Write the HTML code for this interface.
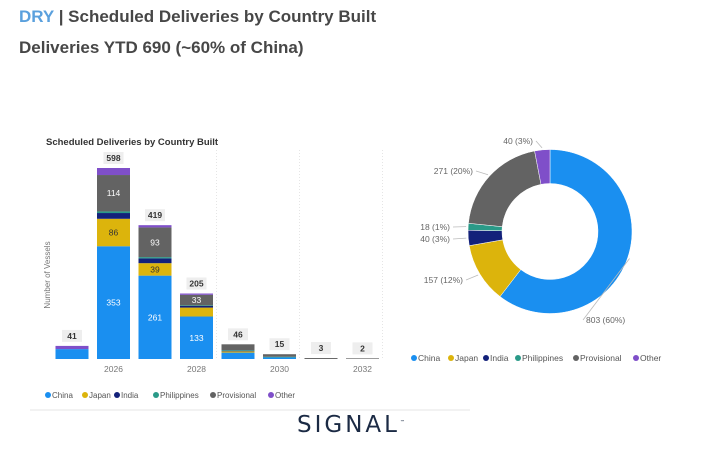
<!DOCTYPE html>
<html><head><meta charset="utf-8"><style>
body{margin:0;width:715px;height:469px;background:#fff;font-family:"Liberation Sans",sans-serif;overflow:hidden;position:relative}
.t{position:absolute;left:19px;font-weight:bold;font-size:17px;color:#474747}
</style></head><body>
<div class="t" style="top:7px"><span style="color:#5aa0dd">DRY</span> | Scheduled Deliveries by Country Built</div>
<div class="t" style="top:38px">Deliveries YTD 690 (~60% of China)</div>
<svg id="c" width="715" height="469" style="position:absolute;left:0;top:0"></svg>
<div style="position:absolute;left:297px;top:412px;font-size:23px;letter-spacing:3px;color:#1b2a44;font-family:'DejaVu Sans',sans-serif">SIGNAL<sup style="font-size:5px">™</sup></div>
<script>
const years=["2025","2026","2027","2028","2029","2030","2031","2032"];
const tickLabels=["","2026","","2028","","2030","","2032"];
const china=[31,353,261,133,20,5,0,0];
const japan=[0,86,39,28,4,0,0,0];
const india=[0,18,15,5,2,0,0,0];
const philippines=[0,5,4,2,2,2,0,0];
const provisional=[0,114,93,33,18,8,3,2];
const other=[10,22,7,4,0,0,0,0];
const totals=[41,598,419,205,46,15,3,2];
const seriesNames=["China","Japan","India","Philippines","Provisional","Other"];
const donutValues=[803,157,40,18,271,40];
const donutLabels=["803 (60%)","157 (12%)","40 (3%)","18 (1%)","271 (20%)","40 (3%)"];
const colors=["#1a8ff0","#dcb40c","#13217a","#2a9a88","#636363","#7f4fc9"];
const NS="http://www.w3.org/2000/svg",svg=document.getElementById('c');
function mk(t,a,txt){const e=document.createElementNS(NS,t);for(const k in a)e.setAttribute(k,a[k]);if(txt!==undefined)e.textContent=txt;svg.appendChild(e);return e;}
let ln=mk('line',{x1:30,y1:410,x2:470,y2:410,stroke:'#e6e6e6'});

let tt=mk('text',{x:46,y:145,'font-size':9.5,fill:'#333','font-weight':'bold'},'Scheduled Deliveries by Country Built');

let yt=mk('text',{x:0,y:0,'font-size':8,fill:'#777',transform:'translate(50,275) rotate(-90)','text-anchor':'middle'},'Number of Vessels');

const base=359,scale=191/598;
const xC=i=>72+i*41.5, yV=v=>base-v*scale, bw=33;
[3,5,7].forEach(i=>{let g=mk('line',{x1:xC(i)+20,y1:150,x2:xC(i)+20,y2:base,stroke:'#e5e5e5','stroke-dasharray':'1,2'});});
const series=[china,japan,india,philippines,provisional,other];
years.forEach((y,i)=>{
 let acc=0;
 series.forEach((s,k)=>{const v=s[i];if(!v)return;
  const r=mk('rect',{x:xC(i)-bw/2,y:yV(acc+v),width:bw,height:v*scale,fill:colors[k]});
  
  if(v>=33&&(k==0||k==1||k==4)){const l=mk('text',{x:xC(i),y:yV(acc+v/2)+3,'font-size':8.5,'text-anchor':'middle',fill:k==1?'#333':'#fff'},v);
   }
  acc+=v;});
 const ty=yV(totals[i])-7;
 const bg=mk('rect',{x:xC(i)-10,y:ty-9,width:20,height:12,fill:'#eeeeee'});
 const tl=mk('text',{x:xC(i),y:ty,'font-size':8.5,'font-weight':'bold','text-anchor':'middle',fill:'#333'},totals[i]);
 
 if(tickLabels[i]){const xl=mk('text',{x:xC(i),y:372,'font-size':8.5,'text-anchor':'middle',fill:'#777'},tickLabels[i]);}
});
function legend(x0,y0,gaps,prefix,fs){let x=x0;seriesNames.forEach((n,k)=>{
 const c=mk('circle',{cx:x,cy:y0-3,r:3,fill:colors[k]});
 const t=mk('text',{x:x+4,y:y0,'font-size':fs,fill:'#555'},n);
 x+=gaps[k];});}
legend(48,398,[37,32,39,57,58,0],'bar',8);
legend(414,361,[37,35,32,58,60,0],'donut',8.5);
const cx=550,cy=231.5,R=82,r0=48,tot=donutValues.reduce((a,b)=>a+b,0);
let a=-Math.PI/2;
const labelPos=[[586,323,'start'],[463,283,'end'],[450,242,'end'],[450,230,'end'],[473,174,'end'],[533,144,'end']];
donutValues.forEach((v,k)=>{
 const a2=a+v/tot*2*Math.PI,lg=(a2-a)>Math.PI?1:0;
 const p=(ang,rr)=>[cx+rr*Math.cos(ang),cy+rr*Math.sin(ang)];
 const [x1,y1]=p(a,R),[x2,y2]=p(a2,R),[x3,y3]=p(a2,r0),[x4,y4]=p(a,r0);
 const s=mk('path',{d:`M${x1},${y1}A${R},${R} 0 ${lg} 1 ${x2},${y2}L${x3},${y3}A${r0},${r0} 0 ${lg} 0 ${x4},${y4}Z`,fill:colors[k],stroke:'#fff','stroke-width':0.5});
 
 const mid=(a+a2)/2,[mx,my]=p(mid,R+2),[lx,ly,an]=labelPos[k];
 const ld=mk('polyline',{points:`${mx},${my} ${lx+(an=='start'?-3:3)},${ly-3}`,fill:'none',stroke:'#bbb','stroke-width':0.8});
 
 const t=mk('text',{x:lx,y:ly,'font-size':8.5,fill:'#666','text-anchor':an},donutLabels[k]);
 
 a=a2;});
</script>
</body></html>
